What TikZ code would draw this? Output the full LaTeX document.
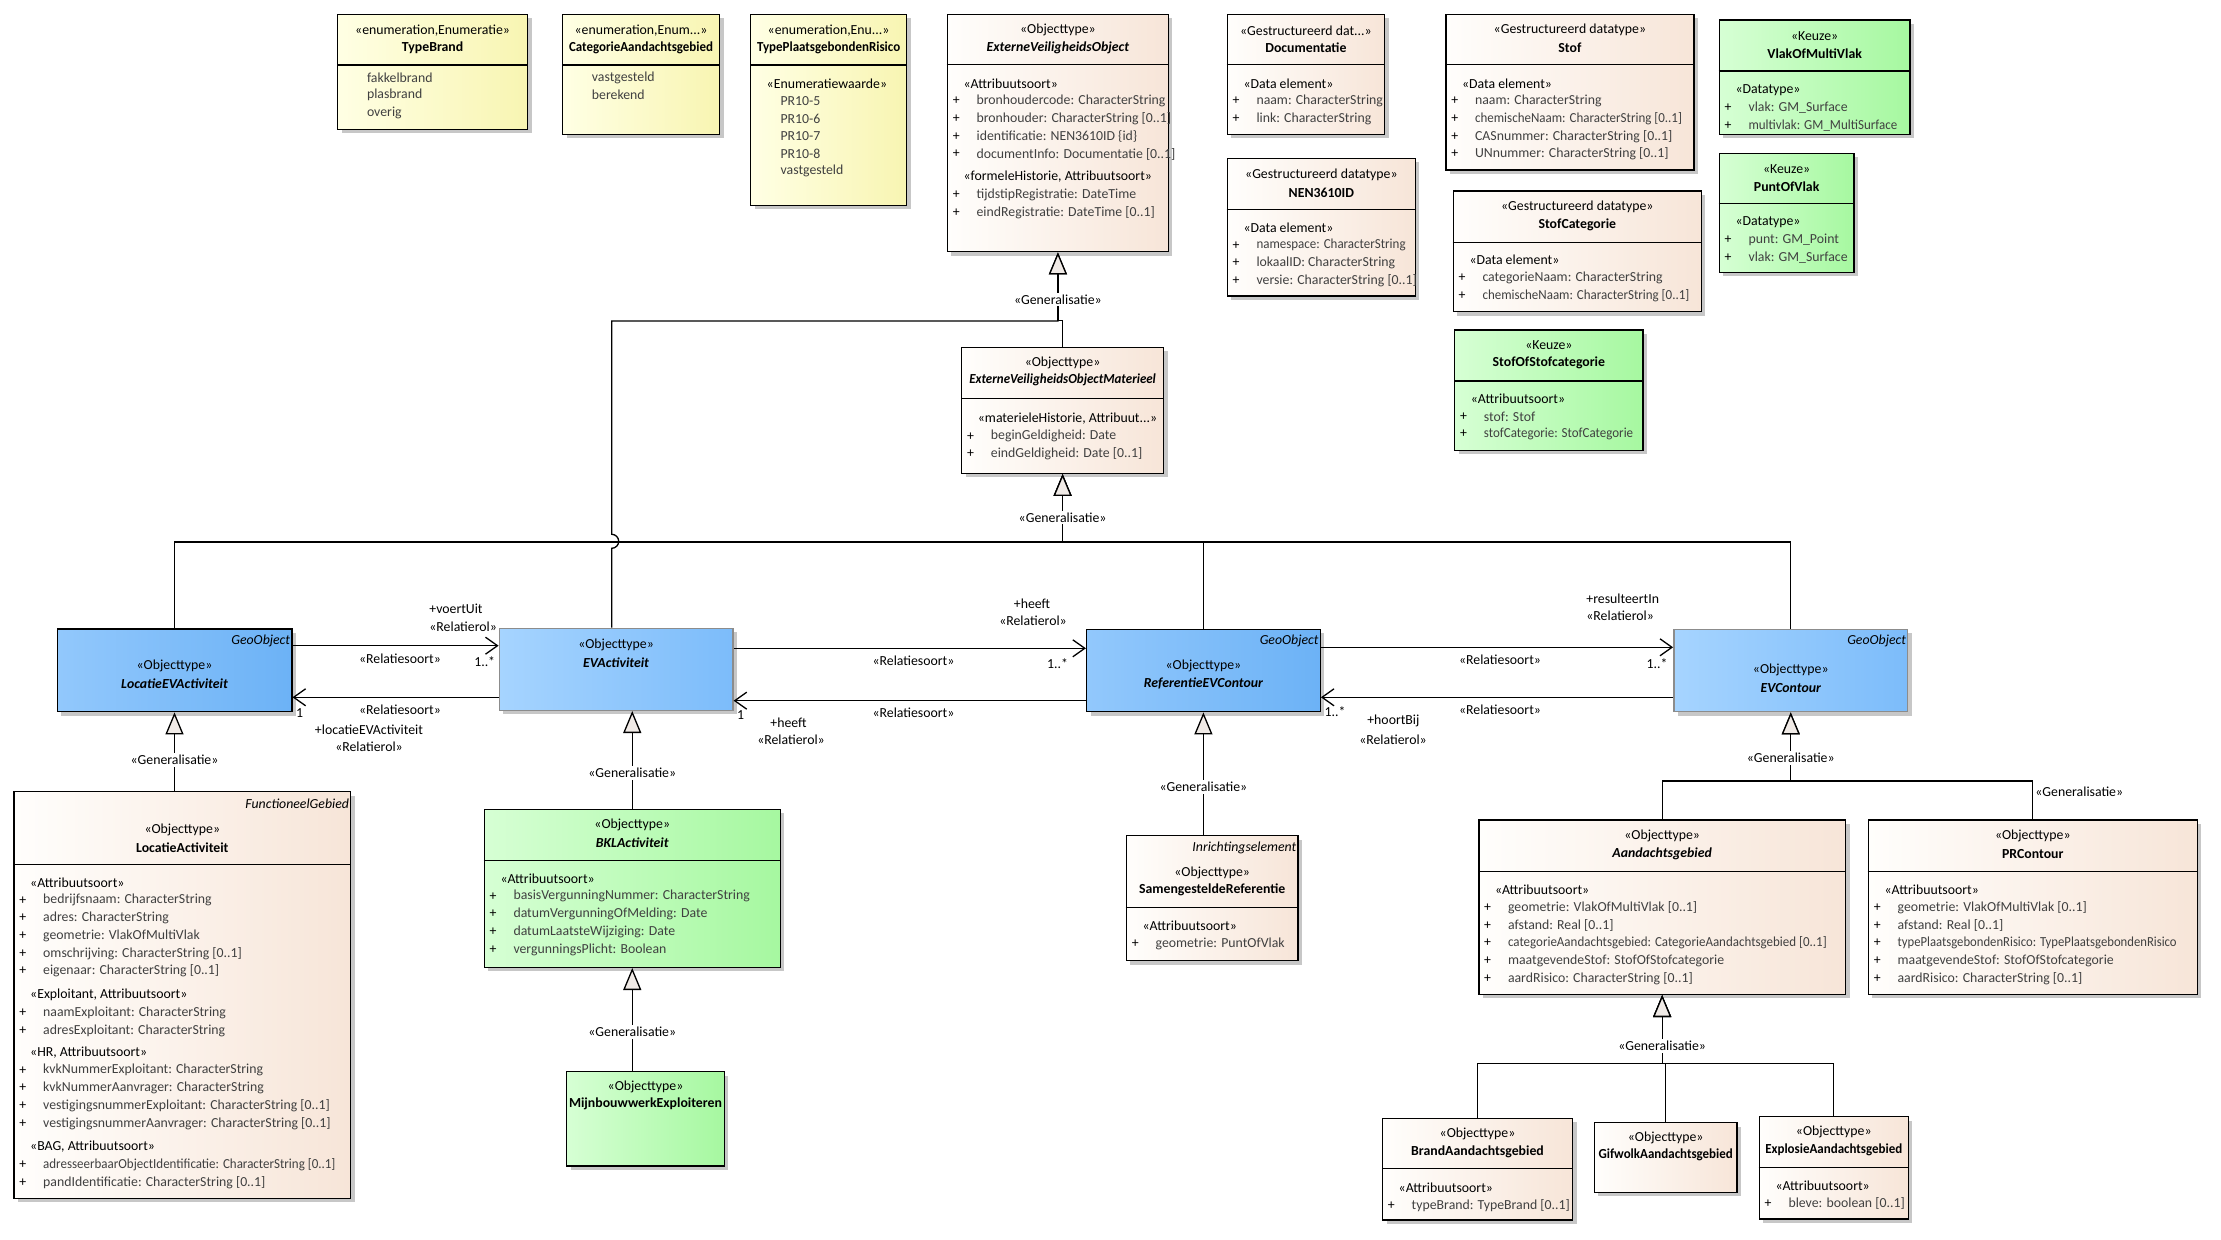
\documentclass[tikz,border=0pt]{standalone}
\usepackage{fontspec}
\setmainfont{Carlito}
\usetikzlibrary{arrows.meta, fit, shadows}

\newcommand{\umlfont}{\fontsize{6.9}{8.85}\selectfont}
\newcommand{\squeeze}[1]{\scalebox{0.94}[1]{#1}}

\begin{document}
\begin{tikzpicture}[
        x = 0.5pt,
        y = -0.5pt,
        font = \umlfont
    ]

        \definecolor{yellowleft}{RGB}{255,255,228}
        \definecolor{yellowright}{RGB}{248,245,178}
        \definecolor{beigeleft}{RGB}{255,254,252}
        \definecolor{beigeright}{RGB}{247,229,216}
        \definecolor{greenleft}{RGB}{214,255,212}
        \definecolor{greenright}{RGB}{166,248,160}
        \definecolor{blueleft}{RGB}{146,200,252}
        \definecolor{blueright}{RGB}{108,178,246}
        \definecolor{paleleft}{RGB}{166,212,255}
        \definecolor{paleright}{RGB}{124,188,250}
        \definecolor{attrgrey}{RGB}{64,64,64}
        \definecolor{trianglefill}{RGB}{240,234,230}

        \tikzset{%
            umlbox/.style = {%
                rectangle,
                draw           = black,
                line width     = 0.7pt,
                inner sep      = 0pt,
                drop shadow    = {shadow xshift = 2pt, shadow yshift = -2pt, fill = black!22, opacity = 1}
            },
            yellowbox/.style = {umlbox, left color = yellowleft, right color = yellowright},
            beigebox/.style  = {umlbox, left color = beigeleft, right color = beigeright},
            greenbox/.style  = {umlbox, left color = greenleft, right color = greenright},
            bluebox/.style   = {umlbox, left color = blueleft, right color = blueright},
            palebox/.style   = {umlbox, draw = black!45, left color = paleleft, right color = paleright},
            headtext/.style  = {inner sep = 0pt, anchor = center},
            tagtext/.style   = {inner sep = 0pt, anchor = east, font = \umlfont\itshape},
            attrhead/.style  = {inner sep = 0pt, anchor = west},
            attrplus/.style  = {inner sep = 0pt, anchor = center},
            attrtext/.style  = {inner sep = 0pt, anchor = west, text = attrgrey},
            divline/.style   = {line width = 0.7pt},
            genline/.style   = {line width = 0.65pt, -{Triangle[length = 11pt, width = 9pt, fill = trianglefill]}},
            assocline/.style = {line width = 0.65pt, -{Straight Barb[length = 6pt, width = 8.5pt]}},
            genlabel/.style  = {fill = white, inner sep = 1pt},
            rolelabel/.style = {inner sep = 0pt}
        }

        \newcommand{\classbox}[6]{%
            \node[#2, fit = {(#3, #4) (#5, #6)}] (#1) {};
        }
        \newcommand{\divider}[2]{%
            \draw[divline] (#1.west |- 0,#2) -- (#1.east |- 0,#2);
        }
        \newcommand{\classhead}[4]{%
            \node[headtext] (#1-stereo) at ([yshift = {-#2*0.5pt}]#1.north) {#3};
            \node[headtext] (#1-name) at ([yshift = {-(#2 + 17.6)*0.5pt}]#1.north) {#4};
        }
        \newcommand{\classtag}[2]{%
            \node[tagtext] (#1-tag) at ([xshift = -1pt, yshift = -6.3pt]#1.north east) {#2};
        }
        \newcommand{\attrgroup}[5]{%
            \node[attrhead] (#1-#2) at ([xshift = 8.25pt, yshift = {-#3*0.5pt}]#1.north west) {#4};
            \foreach \attr [count = \i] in {#5} {
                \node[attrplus] (#1-#2p\i) at ([xshift = 4.75pt, yshift = {-(#3 + \i*17.7)*0.5pt}]#1.north west) {+};
                \node[attrtext] (#1-#2a\i) at ([xshift = 14.75pt, yshift = {-(#3 + \i*17.7)*0.5pt}]#1.north west) {\attr};
            }
        }
        \newcommand{\literals}[5]{%
            \foreach \lit [count = \i] in {#5} {
                \node[attrtext] (#1-#2\i) at ([xshift = {#4*0.5pt}, yshift = {-(#3 + (\i - 1)*17.5)*0.5pt}]#1.north west) {\lit};
            }
        }

        \fill[white] (0, 0) rectangle (2221, 1240);
        \useasboundingbox (0, 0) rectangle (2221, 1240);

        % Enumerations
        \classbox{typebrand}{yellowbox}{337.7}{14.3}{527.5}{129.3}
        \divider{typebrand}{65}
        \classhead{typebrand}{16.7}{«enumeration,Enumeratie»}{\bfseries TypeBrand}
        \literals{typebrand}{lit}{64}{29.6}{fakkelbrand, plasbrand, overig}

        \classbox{catag}{yellowbox}{562.6}{14.3}{719.5}{134.3}
        \divider{catag}{65}
        \classhead{catag}{16.7}{«enumeration,Enum...»}{\bfseries\squeeze{CategorieAandachtsgebied}}
        \literals{catag}{lit}{64}{29.6}{vastgesteld, berekend}

        \classbox{typepr}{yellowbox}{750.7}{14.3}{906.5}{205.3}
        \divider{typepr}{65}
        \classhead{typepr}{16.7}{«enumeration,Enu...»}{\bfseries\squeeze{TypePlaatsgebondenRisico}}
        \node[attrhead] (typepr-values) at ([xshift = 8.15pt, yshift = -34.85pt]typepr.north west) {«Enumeratiewaarde»};
        \literals{typepr}{lit}{87.7}{30.2}{PR10-5, PR10-6, PR10-7, PR10-8, vastgesteld}

        % Objecttypes and datatypes at the top
        \classbox{evo}{beigebox}{947.4}{14.3}{1168.4}{251.7}
        \divider{evo}{64.3}
        \classhead{evo}{16.7}{«Objecttype»}{\bfseries\itshape ExterneVeiligheidsObject}
        \attrgroup{evo}{attr}{69.7}{«Attribuutsoort»}{bronhoudercode: CharacterString, bronhouder: CharacterString [0..1], {identificatie: NEN3610ID \{id\}}, documentInfo: Documentatie [0..1]}
        \attrgroup{evo}{hist}{163.4}{«formeleHistorie, Attribuutsoort»}{tijdstipRegistratie: DateTime, eindRegistratie: DateTime [0..1]}

        \classbox{docu}{beigebox}{1227.3}{14.3}{1384.5}{134.3}
        \divider{docu}{64.3}
        \classhead{docu}{16.7}{«Gestructureerd dat...»}{\bfseries Documentatie}
        \attrgroup{docu}{attr}{69.7}{«Data element»}{naam: CharacterString, link: CharacterString}

        \classbox{nen}{beigebox}{1227.3}{158.3}{1415.4}{296}
        \divider{nen}{209.3}
        \classhead{nen}{17.2}{«Gestructureerd datatype»}{\bfseries NEN3610ID}
        \attrgroup{nen}{attr}{70}{«Data element»}{{\squeeze{namespace: CharacterString}}, lokaalID: CharacterString, versie: CharacterString [0..1]}

        \classbox{stof}{beigebox}{1445.9}{14.3}{1693.9}{170}
        \divider{stof}{64.3}
        \classhead{stof}{16.7}{«Gestructureerd datatype»}{\bfseries Stof}
        \attrgroup{stof}{attr}{69.7}{«Data element»}{naam: CharacterString, {\squeeze{chemischeNaam: CharacterString [0..1]}}, CASnummer: CharacterString [0..1], UNnummer: CharacterString [0..1]}

        \classbox{stofcat}{beigebox}{1453.3}{191}{1701.3}{311.7}
        \divider{stofcat}{242.7}
        \classhead{stofcat}{16.7}{«Gestructureerd datatype»}{\bfseries StofCategorie}
        \attrgroup{stofcat}{attr}{69.7}{«Data element»}{categorieNaam: CharacterString, {\squeeze{chemischeNaam: CharacterString [0..1]}}}

        % Keuze types
        \classbox{vlakof}{greenbox}{1719.3}{20}{1910}{134.3}
        \divider{vlakof}{71}
        \classhead{vlakof}{17.3}{«Keuze»}{\bfseries VlakOfMultiVlak}
        \attrgroup{vlakof}{attr}{71}{«Datatype»}{vlak: GM\_Surface, {\squeeze{multivlak: GM\_MultiSurface}}}

        \classbox{puntof}{greenbox}{1719.3}{153.3}{1854}{272.3}
        \divider{puntof}{203.3}
        \classhead{puntof}{16.3}{«Keuze»}{\bfseries PuntOfVlak}
        \attrgroup{puntof}{attr}{69.4}{«Datatype»}{punt: GM\_Point, vlak: GM\_Surface}

        \classbox{stofof}{greenbox}{1454.7}{330}{1643}{450.5}
        \divider{stofof}{381}
        \classhead{stofof}{16}{«Keuze»}{\bfseries StofOfStofcategorie}
        \attrgroup{stofof}{attr}{69.5}{«Attribuutsoort»}{stof: Stof, {\squeeze{stofCategorie: StofCategorie}}}

        \classbox{evom}{beigebox}{961.7}{347.3}{1163.5}{473.3}
        \divider{evom}{398.3}
        \classhead{evom}{16}{«Objecttype»}{\bfseries\itshape\squeeze{ExterneVeiligheidsObjectMaterieel}}
        \attrgroup{evom}{attr}{72}{«materieleHistorie, Attribuut...»}{beginGeldigheid: Date, eindGeldigheid: Date [0..1]}

        % Middle row
        \classbox{locevA}{bluebox}{57.2}{629}{291.8}{711.7}
        \classtag{locevA}{GeoObject}
        \classhead{locevA}{38}{«Objecttype»}{\bfseries\itshape LocatieEVActiviteit}

        \classbox{evact}{palebox}{499.3}{628.3}{732.9}{710.3}
        \classhead{evact}{17.7}{«Objecttype»}{\bfseries\itshape EVActiviteit}

        \classbox{refevc}{bluebox}{1086.6}{629.3}{1320.2}{711.7}
        \classtag{refevc}{GeoObject}
        \classhead{refevc}{37.7}{«Objecttype»}{\bfseries\itshape ReferentieEVContour}

        \classbox{evcont}{palebox}{1673.8}{629.3}{1907.7}{711.7}
        \classtag{evcont}{GeoObject}
        \classhead{evcont}{41.7}{«Objecttype»}{\bfseries\itshape EVContour}

        % Bottom row
        \classbox{locact}{beigebox}{14}{791.7}{350.7}{1198.3}
        \divider{locact}{864.3}
        \classtag{locact}{FunctioneelGebied}
        \classhead{locact}{39}{«Objecttype»}{\bfseries LocatieActiviteit}
        \attrgroup{locact}{attr}{91.6}{«Attribuutsoort»}{bedrijfsnaam: CharacterString, adres: CharacterString, geometrie: VlakOfMultiVlak, omschrijving: CharacterString [0..1], eigenaar: CharacterString [0..1]}
        \attrgroup{locact}{expl}{204}{«Exploitant, Attribuutsoort»}{naamExploitant: CharacterString, adresExploitant: CharacterString}
        \attrgroup{locact}{hr}{261.6}{«HR, Attribuutsoort»}{kvkNummerExploitant: CharacterString, kvkNummerAanvrager: CharacterString, vestigingsnummerExploitant: CharacterString [0..1], vestigingsnummerAanvrager: CharacterString [0..1]}
        \attrgroup{locact}{bag}{356}{«BAG, Attribuutsoort»}{{\squeeze{adresseerbaarObjectIdentificatie: CharacterString [0..1]}}, pandIdentificatie: CharacterString [0..1]}

        \classbox{bkl}{greenbox}{484.3}{809.3}{780.2}{967.3}
        \divider{bkl}{860.7}
        \classhead{bkl}{16.4}{«Objecttype»}{\bfseries\itshape BKLActiviteit}
        \attrgroup{bkl}{attr}{70}{«Attribuutsoort»}{basisVergunningNummer: CharacterString, datumVergunningOfMelding: Date, datumLaatsteWijziging: Date, vergunningsPlicht: Boolean}

        \classbox{mijn}{greenbox}{566.7}{1071.7}{724.3}{1166}
        \classhead{mijn}{15.6}{«Objecttype»}{\bfseries MijnbouwwerkExploiteren}

        \classbox{samref}{beigebox}{1126.4}{835.7}{1298}{960.7}
        \divider{samref}{907.7}
        \classtag{samref}{Inrichtingselement}
        \classhead{samref}{37.6}{«Objecttype»}{\bfseries SamengesteldeReferentie}
        \attrgroup{samref}{attr}{91}{«Attribuutsoort»}{geometrie: PuntOfVlak}

        \classbox{aand}{beigebox}{1478.8}{820}{1845.5}{994.3}
        \divider{aand}{871.7}
        \classhead{aand}{16.7}{«Objecttype»}{\bfseries\itshape Aandachtsgebied}
        \attrgroup{aand}{attr}{70.7}{«Attribuutsoort»}{geometrie: VlakOfMultiVlak [0..1], afstand: Real [0..1], {\squeeze{categorieAandachtsgebied: CategorieAandachtsgebied [0..1]}}, maatgevendeStof: StofOfStofcategorie, aardRisico: CharacterString [0..1]}

        \classbox{prc}{beigebox}{1868.4}{820}{2197.2}{994.3}
        \divider{prc}{871.7}
        \classhead{prc}{16.7}{«Objecttype»}{\bfseries PRContour}
        \attrgroup{prc}{attr}{70.7}{«Attribuutsoort»}{geometrie: VlakOfMultiVlak [0..1], afstand: Real [0..1], {\scalebox{0.92}[1]{typePlaatsgebondenRisico: TypePlaatsgebondenRisico}}, maatgevendeStof: StofOfStofcategorie, aardRisico: CharacterString [0..1]}

        \classbox{brand}{beigebox}{1382.5}{1118.3}{1572.5}{1220}
        \divider{brand}{1168.3}
        \classhead{brand}{16.7}{«Objecttype»}{\bfseries BrandAandachtsgebied}
        \attrgroup{brand}{attr}{70}{«Attribuutsoort»}{typeBrand: TypeBrand [0..1]}

        \classbox{gif}{beigebox}{1594.3}{1122.7}{1737.1}{1192.3}
        \classhead{gif}{15.6}{«Objecttype»}{\bfseries\squeeze{GifwolkAandachtsgebied}}

        \classbox{expl}{beigebox}{1759.3}{1116.7}{1908.2}{1219}
        \divider{expl}{1167.3}
        \classhead{expl}{16}{«Objecttype»}{\bfseries\squeeze{ExplosieAandachtsgebied}}
        \attrgroup{expl}{attr}{70}{«Attribuutsoort»}{bleve: boolean [0..1]}

        % Associations
        \draw[assocline] (locevA.east |- 0,645.7) -- (evact.west |- 0,645.7);
        \draw[assocline] (evact.west |- 0,697.3) -- (locevA.east |- 0,697.3);
        \draw[assocline] (evact.east |- 0,648.3) -- (refevc.west |- 0,648.3);
        \draw[assocline] (refevc.west |- 0,700.7) -- (evact.east |- 0,700.7);
        \draw[assocline] (refevc.east |- 0,647.3) -- (evcont.west |- 0,647.3);
        \draw[assocline] (evcont.west |- 0,697.3) -- (refevc.east |- 0,697.3);

        \node[rolelabel, anchor = west] (voertuit-role) at (429, 609.3) {+voertUit};
        \node[rolelabel, anchor = west] (voertuit-stereo) at (429, 626.7) {«Relatierol»};
        \node[rolelabel] (voertuit-kind) at (400, 658.3) {«Relatiesoort»};
        \node[rolelabel] (voertuit-mult) at (484.7, 661.7) {1..*};
        \node[rolelabel] (locevA-mult) at (299.6, 712.7) {1};
        \node[rolelabel] (locevA-kind) at (400, 710) {«Relatiesoort»};
        \node[rolelabel] (locevA-role) at (369, 730) {+locatieEVActiviteit};
        \node[rolelabel] (locevA-stereo) at (369, 746.7) {«Relatierol»};

        \node[rolelabel] (heeft-role) at (1032, 603.3) {+heeft};
        \node[rolelabel] (heeft-stereo) at (1033, 621) {«Relatierol»};
        \node[rolelabel] (heeft-kind) at (913.5, 660.7) {«Relatiesoort»};
        \node[rolelabel] (heeft-mult) at (1057.5, 664) {1..*};
        \node[rolelabel] (evact-mult) at (740.7, 715) {1};
        \node[rolelabel] (evact-kind) at (913.5, 712.7) {«Relatiesoort»};
        \node[rolelabel] (evact-role) at (788.5, 722.7) {+heeft};
        \node[rolelabel] (evact-stereo) at (791, 739.3) {«Relatierol»};

        \node[rolelabel, anchor = west] (resulteert-role) at (1586, 599) {+resulteertIn};
        \node[rolelabel, anchor = west] (resulteert-stereo) at (1586, 616) {«Relatierol»};
        \node[rolelabel] (resulteert-kind) at (1500, 659.3) {«Relatiesoort»};
        \node[rolelabel] (resulteert-mult) at (1657, 663.3) {1..*};
        \node[rolelabel] (hoortbij-mult) at (1335, 711.7) {1..*};
        \node[rolelabel] (hoortbij-kind) at (1500, 710) {«Relatiesoort»};
        \node[rolelabel] (hoortbij-role) at (1393.4, 721) {+hoortBij};
        \node[rolelabel] (hoortbij-stereo) at (1393, 739.3) {«Relatierol»};

        % Generalisations
        \coordinate (evact-up) at ([xshift = -2.2pt]evact.north);
        \draw[genline] (evact-up) -- ++(0, -79.3)
            arc[start angle = -90, end angle = 90, radius = 3.5pt]
            -- (evact-up |- 0,321) -| (evo.south);
        \draw[genline] (evom.north) -- ++(0, -26.3) -| (evo.south);

        \coordinate (evom-hub) at (evom.south |- 0,542);
        \draw[genline] (locevA.north) |- (evom-hub) -- (evom.south);
        \draw[genline] (refevc.north) |- (evom-hub) -- (evom.south);
        \draw[genline] (evcont.north) |- (evom-hub) -- (evom.south);

        \draw[genline] (locact.north -| locevA.south) -- (locevA.south);
        \draw[genline] (bkl.north) -- (bkl.north |- evact.south);
        \draw[genline] (mijn.north -| bkl.south) -- (bkl.south);
        \draw[genline] (samref.north -| refevc.south) -- (refevc.south);

        \coordinate (evcont-hub) at (evcont.south |- 0,781);
        \draw[genline] (aand.north) |- (evcont-hub) -- (evcont.south);
        \draw[genline] (prc.north) |- (evcont-hub) -- (evcont.south);

        \coordinate (aand-hub) at (aand.south |- 0,1063.3);
        \draw[genline] (brand.north) |- (aand-hub) -- (aand.south);
        \draw[genline] (gif.north) |- (aand-hub) -- (aand.south);
        \draw[genline] (expl.north) |- (aand-hub) -- (aand.south);

        \node[genlabel] (evo-gen) at (evo.south |- 0,299.5) {«Generalisatie»};
        \node[genlabel] (evom-gen) at (evom.south |- 0,517.5) {«Generalisatie»};
        \node[genlabel] (locevA-gen) at (locevA.south |- 0,760) {«Generalisatie»};
        \node[genlabel] (evact-gen) at (bkl.north |- 0,772.7) {«Generalisatie»};
        \node[genlabel] (bkl-gen) at (bkl.south |- 0,1031.7) {«Generalisatie»};
        \node[genlabel] (refevc-gen) at (refevc.south |- 0,786.7) {«Generalisatie»};
        \node[genlabel] (evcont-gen) at (evcont.south |- 0,757.7) {«Generalisatie»};
        \node[rolelabel, anchor = west] (prc-gen) at (2035, 791.7) {«Generalisatie»};
        \node[genlabel] (aand-gen) at (aand.south |- 0,1046) {«Generalisatie»};

\end{tikzpicture}
\end{document}
